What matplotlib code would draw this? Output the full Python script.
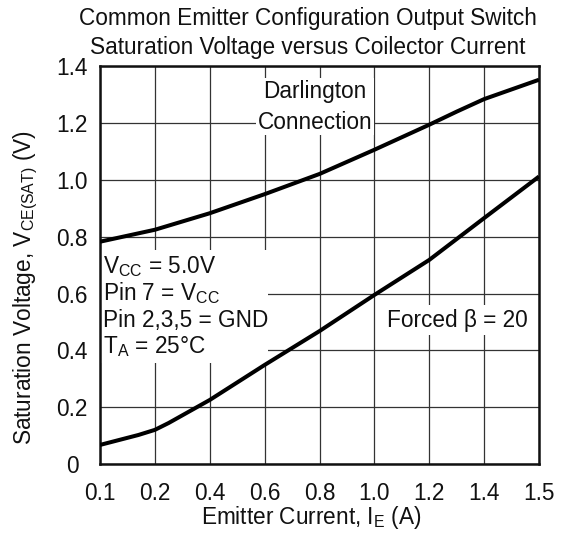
import numpy as np
import matplotlib
matplotlib.use("Agg")
import matplotlib.pyplot as plt
from matplotlib.patches import Rectangle

plt.rcParams['font.family'] = ['Liberation Sans', 'DejaVu Sans']
plt.rcParams['mathtext.fontset'] = 'custom'
plt.rcParams['mathtext.rm'] = 'Liberation Sans'
plt.rcParams['mathtext.default'] = 'regular'

# ---- data ----
x_ticks = [0.1, 0.2, 0.4, 0.6, 0.8, 1.0, 1.2, 1.4, 1.5]
x_tick_labels = ["0.1", "0.2", "0.4", "0.6", "0.8", "1.0", "1.2", "1.4", "1.5"]
y_ticks = [0, 0.2, 0.4, 0.6, 0.8, 1.0, 1.2, 1.4]
y_tick_labels = ["0", "0.2", "0.4", "0.6", "0.8", "1.0", "1.2", "1.4"]

darl_current = [0.1, 0.2, 0.4, 0.6, 0.8, 1.0, 1.1, 1.2, 1.3, 1.4, 1.5]
darl_vsat = [0.782, 0.824, 0.882, 0.949, 1.020, 1.105, 1.149, 1.193, 1.239, 1.283, 1.351]

beta_current = [0.1, 0.17, 0.2, 0.25, 0.4, 0.6, 0.8, 1.0, 1.2, 1.4, 1.5]
beta_vsat = [0.068, 0.103, 0.121, 0.145, 0.226, 0.349, 0.468, 0.595, 0.718, 0.865, 1.011]

# ---- non-uniform x axis (ticks equally spaced) ----
positions = np.arange(len(x_ticks), dtype=float)


def fwd(x):
    return np.interp(x, x_ticks, positions)


def inv(p):
    return np.interp(p, positions, x_ticks)


fig = plt.figure(figsize=(5.63, 5.33), dpi=100)
ax = fig.add_axes([100 / 563, (533 - 464.3) / 533, 439 / 563, 398.5 / 533])
ax.set_xscale('function', functions=(fwd, inv))
ax.set_xlim(0.1, 1.5)
ax.set_ylim(0, 1.4)

FS = 16.3
txt_color = '#111111'

ax.set_xticks(x_ticks)
ax.set_xticklabels(x_tick_labels, fontsize=FS, color=txt_color)
ax.set_yticks(y_ticks)
ax.set_yticklabels(y_tick_labels, fontsize=FS, color=txt_color)
ax.minorticks_off()
ax.tick_params(axis='x', length=0, pad=12.5)
ax.tick_params(axis='y', length=0, pad=20)
for lbl in ax.get_yticklabels():
    lbl.set_horizontalalignment('center')

ax.grid(True, color='#333333', linewidth=0.9)
for s in ax.spines.values():
    s.set_linewidth(1.8)
    s.set_color('#111111')

ax.plot(darl_current, darl_vsat, color='#000000', linewidth=2.9, zorder=4,
        solid_capstyle='butt')
ax.plot(beta_current, beta_vsat, color='#000000', linewidth=2.9, zorder=4,
        solid_capstyle='butt')

# ---- annotations ----
ax.text(0.4897, 0.8977, "Darlington\nConnection", transform=ax.transAxes,
        ha='center', va='center', multialignment='center', fontsize=FS,
        color=txt_color, linespacing=1.45, zorder=3,
        bbox=dict(facecolor='white', edgecolor='none', pad=1.0))

ax.add_patch(Rectangle((0.0, 0.254), 0.383, 0.284, transform=ax.transAxes,
                       facecolor='white', edgecolor='none', zorder=2))
cond_lines = ["V$_{CC}$ = 5.0V", "Pin 7 = V$_{CC}$", "Pin 2,3,5 = GND",
              "T$_{A}$ = 25\u00b0C"]
cond_y = [0.479, 0.412, 0.344, 0.2786]
for s, yy in zip(cond_lines, cond_y):
    ax.text(0.006, yy, s, transform=ax.transAxes, ha='left', va='baseline',
            fontsize=FS, color=txt_color, zorder=3)

ax.text(0.8132, 0.362, "Forced \u03b2 = 20", transform=ax.transAxes,
        ha='center', va='center', fontsize=FS, color=txt_color, zorder=3,
        bbox=dict(facecolor='white', edgecolor='none', pad=2.5))

# ---- labels & title ----
ax.set_xlabel("Emitter Current, I$_{E}$ (A)", fontsize=FS, color=txt_color)
ax.xaxis.set_label_coords(0.4806, -0.100)
ax.set_ylabel("Saturation Voltage, V$_{CE(SAT)}$ (V)", fontsize=FS, color=txt_color)
ax.yaxis.set_label_coords(-0.136, 0.445)

ax.set_title("Common Emitter Configuration Output Switch\n"
             "Saturation Voltage versus Coilector Current",
             fontsize=FS, color=txt_color, x=0.4738, pad=8.8, linespacing=1.3)

fig.savefig("out.png", dpi=100, facecolor='white')
